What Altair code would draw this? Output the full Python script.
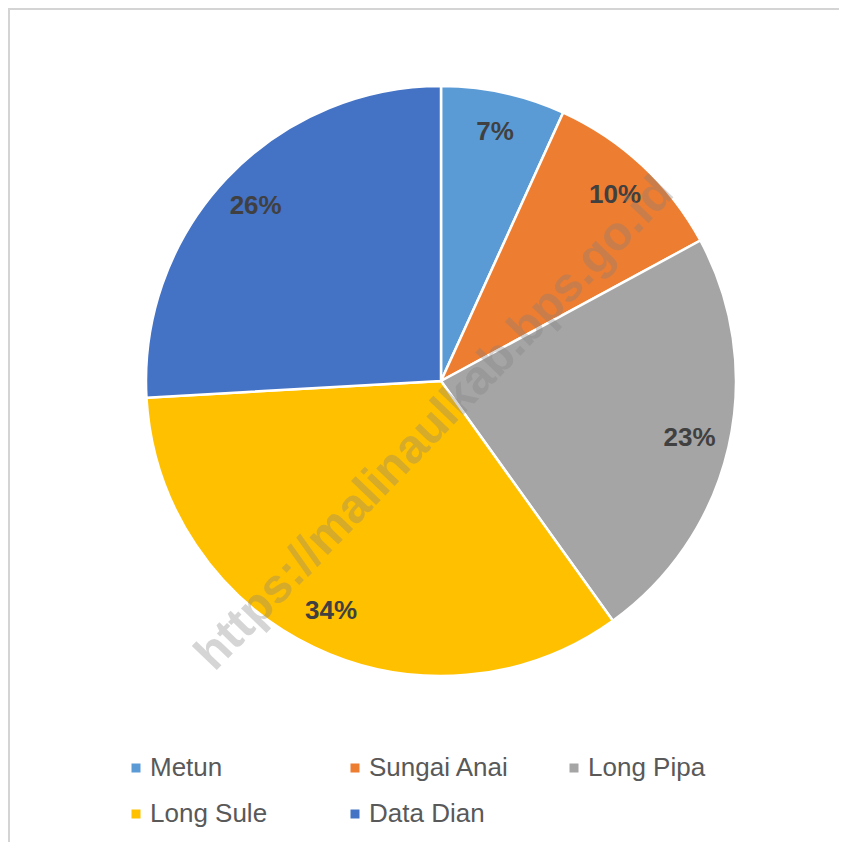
import altair as alt
import pandas as pd

# ---- data ----
names = ["Metun", "Sungai Anai", "Long Pipa", "Long Sule", "Data Dian"]
shares = [6.8, 10.3, 23.0, 34.0, 25.9]
colors = ["#5B9BD5", "#ED7D31", "#A5A5A5", "#FFC000", "#4472C4"]
watermark = "https://malinaulkab.bps.go.id"

df = pd.DataFrame({
    "name": names,
    "share": shares,
    "idx": list(range(len(names))),
})
df["label"] = [f"{round(v):d}%" for v in shares]

W, H = 832, 835
CX, CY = 433, 373
R = 295
FONT = "Liberation Sans"

base = alt.Chart(df).encode(
    theta=alt.Theta("share:Q", stack=True),
    order=alt.Order("idx:Q"),
)

color = alt.Color(
    "name:N",
    sort=names,
    scale=alt.Scale(domain=names, range=colors),
    legend=alt.Legend(
        orient="none", legendX=115, legendY=747,
        direction="horizontal", columns=3, gridAlign="all",
        columnPadding=51, rowPadding=20,
        symbolType="square", symbolSize=81, symbolStrokeWidth=0,
        labelFontSize=26, labelFont=FONT, labelColor="#595959",
        labelOffset=1, labelLimit=300, title=None, padding=0,
    ),
)

arcs = base.mark_arc(
    outerRadius=R, x=CX, y=CY, stroke="white", strokeWidth=2.5
).encode(color=color)

labels = base.mark_text(
    radius=255, x=CX, y=CY, font=FONT, fontSize=26, fontWeight="bold",
    color="#404040", align="center", baseline="middle",
).encode(text="label:N")

wm = alt.Chart(pd.DataFrame({"t": [watermark]})).mark_text(
    font=FONT, fontSize=48, fontWeight="bold", color="#808080", opacity=0.32,
    angle=314, align="center", baseline="middle",
).encode(text="t:N", x=alt.value(427), y=alt.value(416))

# frame: top and left edges only (the reference's right/bottom edges lie off-image)
frame_top = alt.Chart(pd.DataFrame({"a": [0]})).mark_rule(
    color="#d4d4d4", strokeWidth=2
).encode(x=alt.value(0), x2=alt.value(W - 1), y=alt.value(1))

frame_left = alt.Chart(pd.DataFrame({"a": [0]})).mark_rule(
    color="#d4d4d4", strokeWidth=2
).encode(x=alt.value(1), y=alt.value(0), y2=alt.value(H - 1))

chart = alt.layer(arcs, labels, wm, frame_top, frame_left).properties(
    width=W, height=H,
    autosize=alt.AutoSizeParams(type="none"),
    padding=0,
    background="white",
).configure_view(stroke=None, strokeWidth=0, strokeOpacity=0, fill="white")

chart.save("out.html", embed_options={"renderer": "svg", "actions": False})
